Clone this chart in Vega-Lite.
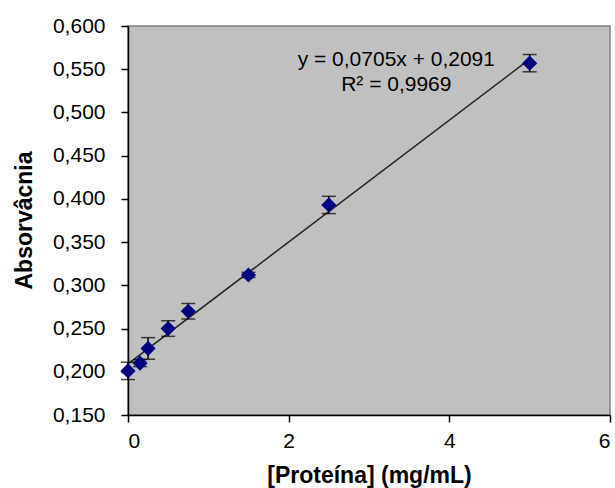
{
  "$schema": "https://vega.github.io/schema/vega-lite/v6.json",
  "width": 482,
  "height": 389,
  "autosize": {"type": "none"},
  "padding": {"left": 128, "top": 26, "right": 5, "bottom": 73},
  "background": "white",
  "config": {
    "view": {"fill": "#c0c0c0", "stroke": "#808080", "strokeWidth": 1.5},
    "font": "Liberation Sans",
    "axis": {
      "labelFont": "Liberation Sans",
      "titleFont": "Liberation Sans",
      "labelFontSize": 21,
      "labelColor": "#000000",
      "titleColor": "#000000",
      "titleFontSize": 23,
      "titleFontWeight": "bold",
      "domainColor": "#000000",
      "domainWidth": 1.5,
      "tickColor": "#000000",
      "tickWidth": 1.5,
      "tickSize": 7,
      "grid": false
    }
  },
  "datasets": {
    "pts": [
      {"conc": 0, "abs": 0.201, "lo": 0.191, "hi": 0.211},
      {"conc": 0.15, "abs": 0.210, "lo": 0.206, "hi": 0.214},
      {"conc": 0.25, "abs": 0.227, "lo": 0.2145, "hi": 0.2395},
      {"conc": 0.5, "abs": 0.250, "lo": 0.241, "hi": 0.259},
      {"conc": 0.75, "abs": 0.270, "lo": 0.261, "hi": 0.279},
      {"conc": 1.5, "abs": 0.312, "lo": 0.309, "hi": 0.315},
      {"conc": 2.5, "abs": 0.393, "lo": 0.383, "hi": 0.403},
      {"conc": 5, "abs": 0.557, "lo": 0.547, "hi": 0.567}
    ],
    "fit": [
      {"conc": 0, "abs": 0.2091},
      {"conc": 5, "abs": 0.5616}
    ]
  },
  "layer": [
    {
      "data": {"name": "fit"},
      "mark": {"type": "line", "color": "#222222", "strokeWidth": 1.5},
      "encoding": {
        "x": {
          "field": "conc", "type": "quantitative",
          "scale": {"domain": [0, 6], "nice": false},
          "axis": {
            "values": [0, 2, 4, 6],
            "format": "d",
            "title": "[Proteína] (mg/mL)",
            "labelPadding": 8,
            "titleY": 72,
            "titleBaseline": "bottom"
          }
        },
        "y": {
          "field": "abs", "type": "quantitative",
          "scale": {"domain": [0.15, 0.6], "nice": false, "zero": false},
          "axis": {
            "values": [0.15, 0.2, 0.25, 0.3, 0.35, 0.4, 0.45, 0.5, 0.55, 0.6],
            "labelExpr": "replace(format(datum.value, '.3f'), '.', ',')",
            "labelPadding": 16,
            "title": "Absorvâcnia",
            "titleX": -92,
            "titleY": 194
          }
        }
      }
    },
    {
      "data": {"name": "pts"},
      "mark": {"type": "rule", "color": "#000000", "strokeWidth": 1.5},
      "encoding": {
        "x": {"field": "conc", "type": "quantitative"},
        "y": {"field": "lo", "type": "quantitative"},
        "y2": {"field": "hi"}
      }
    },
    {
      "data": {"name": "pts"},
      "mark": {"type": "tick", "orient": "horizontal", "color": "#000000", "thickness": 1.5, "size": 14},
      "encoding": {
        "x": {"field": "conc", "type": "quantitative"},
        "y": {"field": "lo", "type": "quantitative"}
      }
    },
    {
      "data": {"name": "pts"},
      "mark": {"type": "tick", "orient": "horizontal", "color": "#000000", "thickness": 1.5, "size": 14},
      "encoding": {
        "x": {"field": "conc", "type": "quantitative"},
        "y": {"field": "hi", "type": "quantitative"}
      }
    },
    {
      "data": {"name": "pts"},
      "mark": {"type": "point", "shape": "diamond", "filled": true, "color": "#000080", "opacity": 1, "size": 230},
      "encoding": {
        "x": {"field": "conc", "type": "quantitative"},
        "y": {"field": "abs", "type": "quantitative"}
      }
    },
    {
      "data": {"values": [{}]},
      "mark": {"type": "text", "fontSize": 21, "color": "#000000", "align": "center", "baseline": "middle"},
      "encoding": {
        "x": {"datum": 3.34, "type": "quantitative"},
        "y": {"datum": 0.5601, "type": "quantitative"},
        "text": {"value": "y = 0,0705x + 0,2091"}
      }
    },
    {
      "data": {"values": [{}]},
      "mark": {"type": "text", "fontSize": 21, "color": "#000000", "align": "center", "baseline": "middle"},
      "encoding": {
        "x": {"datum": 3.34, "type": "quantitative"},
        "y": {"datum": 0.5312, "type": "quantitative"},
        "text": {"value": "R² = 0,9969"}
      }
    }
  ]
}
